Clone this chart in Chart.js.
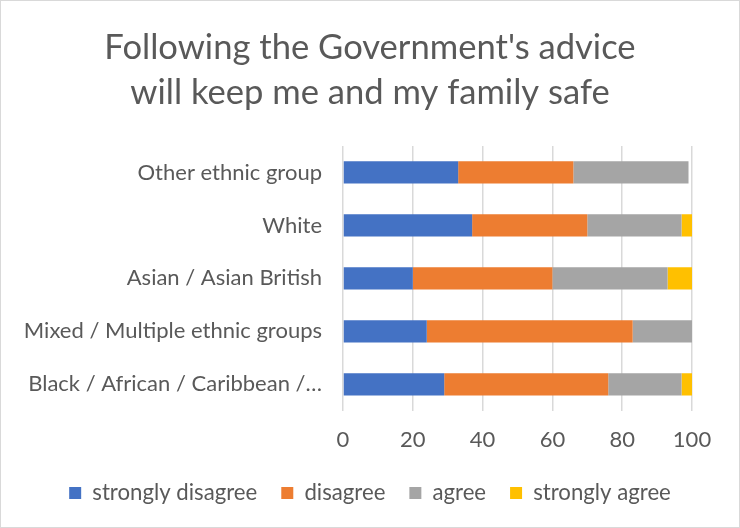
<!DOCTYPE html>
<html lang="en">
<head>
  <meta charset="UTF-8" />
  <title>Government advice by ethnic group</title>
  <script src="https://cdn.jsdelivr.net/npm/chart.js"></script>
  <style>
    body { margin: 0; background: #fff; }
    .frame { width: 740px; height: 528px; box-sizing: border-box; border: 1px solid #d9d9d9; background: #fff; }
    .frame div { position: relative; width: 738px; height: 526px; }
  </style>
</head>
<body>

<div class="frame"><div><canvas id="adviceChart"></canvas></div></div>

<script>
  // Categories, top to bottom
  const groups = [
    "Other ethnic group",
    "White",
    "Asian / Asian British",
    "Mixed / Multiple ethnic groups",
    "Black / African / Caribbean /\u2026"
  ];

  // Percentages per answer
  const stronglyDisagree = [33, 37, 20, 24, 29];
  const disagree         = [33, 33, 40, 59, 47];
  const agree            = [33, 27, 33, 17, 21];
  const stronglyAgree    = [0, 3, 7, 0, 3];

  const xTicks = [0, 20, 40, 60, 80, 100];

  const grey = "#595959";
  Chart.defaults.font.family = "Lato, 'Liberation Sans', sans-serif";
  Chart.defaults.color = grey;

  // title and legend are centred on the whole canvas, not just the padded area
  const centreBlocks = {
    id: "centreBlocks",
    afterLayout(chart) {
      [chart.titleBlock, chart.legend].forEach(b => {
        if (!b) return;
        b.left = 0;
        b.right = chart.width;
        b.width = chart.width;
      });
    }
  };

  const ctx = document.getElementById("adviceChart").getContext("2d");
  new Chart(ctx, {
    type: "bar",
    data: {
      labels: groups,
      datasets: [
        { label: "strongly disagree", data: stronglyDisagree, backgroundColor: "#4472C4" },
        { label: "disagree", data: disagree, backgroundColor: "#ED7D31" },
        { label: "agree", data: agree, backgroundColor: "#A5A5A5" },
        { label: "strongly agree", data: stronglyAgree, backgroundColor: "#FFC000" }
      ]
    },
    plugins: [centreBlocks],
    options: {
      indexAxis: "y",
      responsive: true,
      maintainAspectRatio: false,
      animation: false,
      categoryPercentage: 0.42,
      barPercentage: 1,
      layout: { padding: { left: 0, right: 47, top: 0, bottom: 13 } },
      plugins: {
        title: {
          display: true,
          text: ["Following the Government's advice", "will keep me and my family safe"],
          color: grey,
          font: { size: 34.6, weight: "normal", lineHeight: 1.3 },
          padding: { top: 24.5, bottom: 30.5 }
        },
        legend: {
          position: "bottom",
          labels: {
            color: grey,
            font: { size: 22.2 },
            boxWidth: 12,
            boxHeight: 12,
            padding: 24
          }
        },
        tooltip: { enabled: false }
      },
      scales: {
        x: {
          stacked: true,
          min: 0,
          max: 100,
          afterBuildTicks: (scale) => { scale.ticks = xTicks.map(v => ({ value: v })); },
          afterFit: (scale) => { scale.height = 47; },
          ticks: { color: grey, font: { size: 22 }, padding: 16 },
          grid: { color: "#d9d9d9", lineWidth: 1.5, drawTicks: false },
          border: { display: false }
        },
        y: {
          stacked: true,
          afterFit: (scale) => { scale.width = 342; },
          ticks: { color: grey, font: { size: 22 }, padding: 13 },
          grid: { display: false },
          border: { display: false }
        }
      }
    }
  });
</script>

</body>
</html>
